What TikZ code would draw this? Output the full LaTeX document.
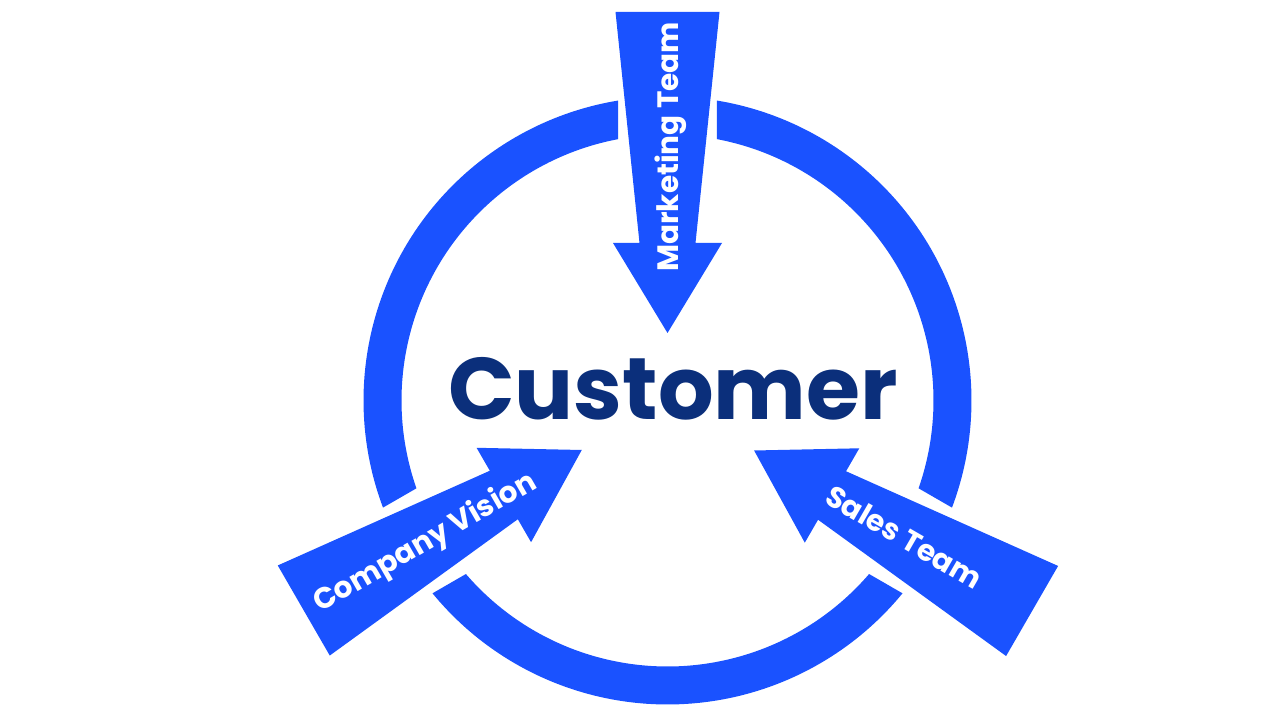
\documentclass[tikz,border=0pt]{standalone}
\usepackage{fontspec}
\setmainfont{Poppins}
\definecolor{ringblue}{HTML}{1A52FF}
\definecolor{darkblue}{HTML}{0B2F7B}
\tikzset{
  ringpart/.style={fill=ringblue},
  arrowshape/.style={fill=ringblue},
  arrowlabel/.style={text=white, font=\bfseries\fontsize{29.5}{30}\selectfont, inner sep=0pt, anchor=base},
  centerlabel/.style={text=darkblue, font=\bfseries\fontsize{87.5}{88}\selectfont, inner sep=0pt, anchor=base}
}
\begin{document}
\begin{tikzpicture}[x=1pt,y=1pt]
\useasboundingbox (0,0) rectangle (1280,720);
\coordinate (C) at (667.5,319.5);
\begin{scope}[shift={(C)}]
  % ring segments
  \foreach \a in {90,210,330}{
    \fill[ringpart] ({\a+9.37}:304) arc[start angle={\a+9.37}, end angle={\a+110.63}, radius=304]
      -- ({\a+109.28}:266) arc[start angle={\a+109.28}, end angle={\a+10.72}, radius=266] -- cycle;
  }
  % arrows
  \foreach \ang/\tip/\txt/\trot/\s/\tpos/\nm in {270/67.5/Marketing Team/90/1/186/mkt, 30/99/Company Vision/30/-1/182/cv, 150/100/Sales Team/-30/1/173/st}{
    \begin{scope}[shift={({\ang+180}:\tip)}, rotate=\ang]
      \fill[arrowshape] (0,0) -- (-90,54.5) -- (-90,28) -- (-321,52) -- (-321,-52) -- (-90,-28) -- (-90,-54.5) -- cycle;
      \node[arrowlabel, rotate=\trot] (\nm) at (-\tpos, \s*10.5) {\txt};
    \end{scope}
  }
\end{scope}
\node[centerlabel] (customer) at (673,300) {Customer};
\end{tikzpicture}
\end{document}
